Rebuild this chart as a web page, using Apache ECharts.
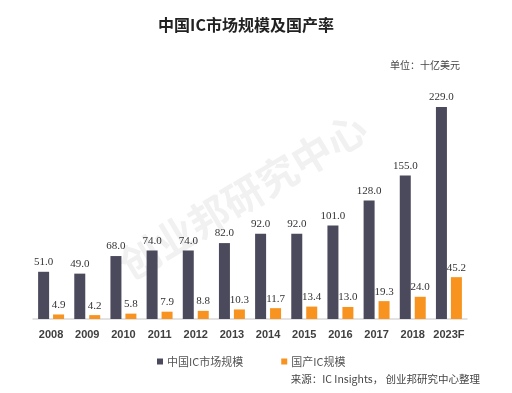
<!DOCTYPE html>
<html>
<head>
<meta charset="utf-8">
<script src="https://cdn.jsdelivr.net/npm/echarts@6/dist/echarts.min.js"></script>
<style>
html,body{margin:0;padding:0;background:#fff;}
#chart{width:512px;height:393px;}
</style>
</head>
<body>
<div id="chart"></div>
<script>
var categories = ['2008','2009','2010','2011','2012','2013','2014','2015','2016','2017','2018','2023F'];
var marketSize = [51.0,49.0,68.0,74.0,74.0,82.0,92.0,92.0,101.0,128.0,155.0,229.0];
var domesticSize = [4.9,4.2,5.8,7.9,8.8,10.3,11.7,13.4,13.0,19.3,24.0,45.2];
var seriesNames = ['中国IC市场规模','国产IC规模'];
var titleText = '中国IC市场规模及国产率';
var unitText = '单位：十亿美元';
var sourceText = '来源：IC Insights， 创业邦研究中心整理';
var watermarkText = '创业邦研究中心';

var chart = echarts.init(document.getElementById('chart'));
var labelStyle = {
  show: true, position: 'top', distance: 4,
  fontFamily: '"Liberation Serif", "Times New Roman", serif',
  fontSize: 11, color: '#333',
  formatter: function (p) { return p.value.toFixed(1); }
};
chart.setOption({
  backgroundColor: '#fff',
  animation: false,
  title: {
    text: titleText, left: 241, top: 12, textAlign: 'center',
    textStyle: { fontSize: 16, fontWeight: 'bold', color: '#222', fontFamily: '"Noto Sans CJK SC", sans-serif' }
  },
  graphic: [
    { type: 'text', z: -10, x: 243, y: 196, rotation: 31 * Math.PI / 180,
      style: { text: watermarkText, fontSize: 40, fontWeight: 'bold', fill: '#f1f1f1',
        fontFamily: '"Noto Sans CJK SC", sans-serif', align: 'center', verticalAlign: 'middle' } },
    { type: 'text', x: 460, y: 65,
      style: { text: unitText, fontSize: 10, fill: '#444', align: 'right', verticalAlign: 'middle',
        fontFamily: '"Noto Sans CJK SC", sans-serif' } },
    { type: 'text', x: 480, y: 379,
      style: { text: sourceText, fontSize: 10.5, fill: '#444', align: 'right', verticalAlign: 'middle',
        fontFamily: '"Noto Sans CJK SC", sans-serif' } }
  ],
  legend: {
    data: seriesNames, left: 152, top: 351, itemWidth: 6, itemHeight: 6, itemGap: 38, icon: 'rect',
    textStyle: { fontSize: 11, color: '#555', fontFamily: '"Noto Sans CJK SC", sans-serif', padding: [0,0,0,-1] }
  },
  grid: { left: 33, right: 45, top: 107, bottom: 74, containLabel: false },
  xAxis: {
    type: 'category', data: categories,
    axisLine: { lineStyle: { color: '#d9d9d9', width: 1.5 } },
    axisTick: { show: false },
    axisLabel: { interval: 0, fontSize: 11, fontWeight: 'bold', color: '#404040', margin: 10,
      fontFamily: '"Liberation Sans", Arial, sans-serif' }
  },
  yAxis: { type: 'value', min: 0, max: 229, show: false, splitLine: { show: false } },
  series: [
    { name: seriesNames[0], type: 'bar', data: marketSize, barWidth: 11, barGap: '36%',
      itemStyle: { color: '#4b4a5c' }, label: labelStyle },
    { name: seriesNames[1], type: 'bar', data: domesticSize, barWidth: 11,
      itemStyle: { color: '#f7931e' }, label: labelStyle }
  ]
});
</script>
</body>
</html>
